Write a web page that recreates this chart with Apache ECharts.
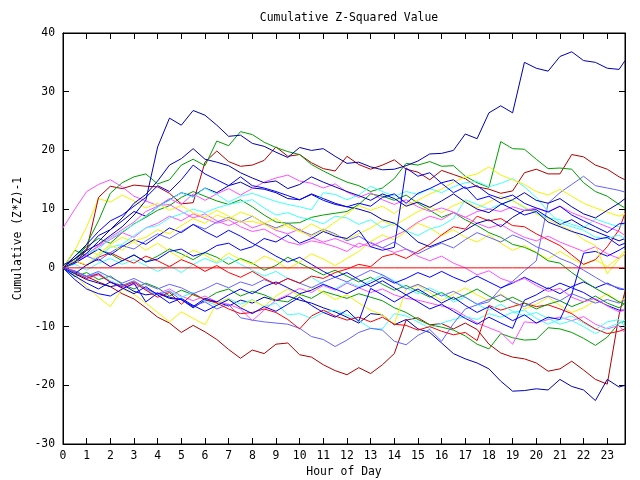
<!DOCTYPE html>
<html>
<head>
<meta charset="utf-8">
<script src="https://cdn.jsdelivr.net/npm/echarts@6/dist/echarts.min.js"></script>
<style>html,body{margin:0;padding:0;background:#fff}#c{width:640px;height:480px}</style>
</head>
<body>
<div id="c"></div>
<script>
// x positions (hour of day)
const hours = [0,0.5,1,1.5,2,2.5,3,3.5,4,4.5,5,5.5,6,6.5,7,7.5,8,8.5,9,9.5,10,10.5,11,11.5,12,12.5,13,13.5,14,14.5,15,15.5,16,16.5,17,17.5,18,18.5,19,19.5,20,20.5,21,21.5,22,22.5,23,23.5,23.75];
const hourLabels = ['0','1','2','3','4','5','6','7','8','9','10','11','12','13','14','15','16','17','18','19','20','21','22','23'];
const yTicks = [-30,-20,-10,0,10,20,30,40];

// series values (cumulative (Z*Z)-1)
const s01 = [0.5,1.5,3,4,5.5,7,9,11.5,20.6,25.5,24.3,26.8,26,24.3,22.4,22.6,21.2,20.7,19.7,18.8,20.5,20,20.3,19,17.8,18,17.2,16.7,16.8,17.4,18.2,19.4,19.5,20,22.8,22,26.4,27.6,26.4,35,34,33.5,36,36.8,35.3,35,34,33.8,35.3];
const s02 = [0,1,4,8,12.7,14.5,15.5,16,14.3,15,17.5,18.5,17.4,21.6,20.8,23.2,22.7,21.4,20.5,19.8,19.3,17.6,16.5,15.5,14.6,14,13,13.6,15.2,17.8,17.5,18.1,17.3,17.4,15.6,14.5,13.7,21.5,20.3,20.2,18.5,16.9,17,16.8,14.5,13,12.2,10.8,10.2];
const s03 = [0,1,3,12,13.9,13.5,14.1,13.9,13.8,12.7,10.9,11.1,18,19.9,18.1,17.3,17.5,18.3,20.6,19,19.3,17.9,16.9,16.5,19,17.6,16.8,17.5,18.4,16.8,16.3,15,16.6,15.9,15.2,13.8,13.4,12.7,13.1,16.2,16.8,16,16,19.3,18.9,17.5,16.8,15.5,15];
const s04 = [0,-0.7,-1.5,-2.4,-3.2,-4.4,-5.3,-6.8,-8.4,-9.4,-11,-9.8,-10.9,-12.2,-13.9,-15.4,-14,-14.6,-13,-12.8,-14.8,-15.2,-16.5,-17.5,-18.2,-17,-18,-16.5,-14.6,-8.9,-8.5,-9.7,-9.5,-10.4,-9.4,-10.5,-13,-14.5,-15.2,-15.5,-16.2,-17.6,-17.2,-15.9,-17.4,-19,-19.8,-8,-4];
const s05 = [0,-1,-2,-2.6,-3.2,-2.8,-4,-4.6,-4.3,-5.2,-5.4,-6.8,-5.5,-5.8,-6.5,-5.5,-6,-5,-5.6,-4.8,-5.5,-6,-6.8,-7.5,-8.4,-9.4,-7.8,-8,-9.7,-8.8,-10.4,-11,-12.8,-14.6,-15.5,-16.2,-17.2,-19.3,-21,-20.9,-20.6,-20.8,-19,-20.2,-20.8,-22.6,-19,-20.3,-20];
const s06 = [0,0,0,0,0,0,0,0,0,0,0,0,0,0,0,0,0,0,0,0,0,0,0,0,0,0,0,0,0,0,0,0,0,0,0,0,0,0,0,0,0,0,0,0,0,0,0,0,0];
const s07 = [0,-0.5,-1.5,-1,-2.5,-3,-2.2,-3.5,-4.5,-4,-5.5,-6.5,-5.8,-7,-6.2,-8.5,-8.9,-9.2,-9.4,-9.6,-10.3,-11.7,-12.2,-13.4,-12.3,-11,-10.3,-10.6,-12.5,-13.1,-11.5,-10.5,-12.5,-9.5,-7,-6.3,-5.8,-3.5,-2.3,-0.5,1.2,11,12.8,14.2,15.6,14,13.6,13.2,12.9];
const s08 = [6.8,10,13,14.2,15,13.8,12.2,11.4,10.6,10.8,9.6,8.5,9.2,8,7.2,8,6.8,7.5,6.4,5.8,6.6,5.2,4.4,5,4.2,3.5,4.4,3.4,2.6,3.2,2,1.2,2,0.8,0,-1.2,-0.5,-1.8,-2.5,-1.8,-3,-4,-3.5,-5,-5.8,-5.2,-6.5,-7.5,-7.2];
const s09 = [0,1,2.4,3.6,4.8,6,5.2,6.8,7.6,8.8,8,9.2,8.4,7.6,8.2,7,6.2,6.6,5.5,4.4,3.9,4.6,4.2,3.6,2.8,4.2,3.6,4.6,5.4,6.4,7.8,8.8,8.2,9.4,8.6,7.6,6.8,7.4,6.2,5.2,4.6,5.4,4.4,3.6,2.8,3.6,2.4,1.6,2.4];
const s10 = [0,1,2.5,3.2,5,6.2,7.4,8.8,10.4,11.5,12.8,12,13.6,12.5,11.2,12.2,12.7,12,11.3,10.8,10.4,9.9,12.8,12.5,11.6,12.4,13.9,13,12.2,13,12.5,13.5,12.8,13.8,14.5,14.7,13.8,14.4,15.2,13.8,12,9.6,7.6,7,6.4,5.2,5,5.6,5];
const s11 = [0,-1,0.5,2,3.5,4,5.5,6.8,7.2,8.5,9.2,10,9.4,10.2,10.8,11.2,11.6,10.2,9,9.4,8.6,8.2,7.5,8.8,8.5,7.4,8.2,6.8,7.6,6.3,5.5,6.6,7.2,8.4,11.6,10.8,10,10.8,11.5,10.2,9.4,8.5,8.2,7.4,6.8,8.3,7.6,7,7.6];
const s12 = [0,2,4,6.2,8,9,10.5,12,14,13,15,17.5,16,15,14,15.5,14,13.6,13,12.3,11.6,12.5,11.5,10.8,10.4,11,10.5,12,12.6,11,12.7,13.5,14.5,15,13.5,14,12.5,11.8,12.4,11,10.2,9.5,10.5,9,8,7,6,7.5,7.6];
const s13 = [0,1,2.5,4.5,6.5,8.5,11,12.5,14.8,17.5,18.6,20.3,18.5,18,17.4,16.2,15.3,14.5,14.8,13.5,14.2,15.5,14.6,13.8,13,12.3,11.5,12.6,11.8,10.5,11.2,10.3,11.4,12.6,11.2,10,9.4,10.8,11.6,12.8,11.5,11,11.8,10.4,9.2,8.5,9.8,11,11.8];
const s14 = [0,-1,0.5,1.5,0.2,1.2,2.2,1,1.5,2.8,3.2,2,2.6,3.8,4.2,3,3.6,5,4.4,5.6,4.2,5,6.2,5.4,5,6.4,3.6,3,3.5,17,15.6,16.2,14.4,12.8,13.8,11.6,12.2,11,10,9,9.6,7.8,7,6.2,5.6,4.8,5.2,3.8,4.2];
const s15 = [0,1.2,0.5,2.5,3.8,3,4.6,5.2,6.5,5.8,7.2,8.4,7.6,9,8.3,9.5,8.8,7.6,8.4,7,6.2,7.5,6.4,7.8,9.2,10.6,9.8,10.5,9.2,10.8,11.5,12.6,13.4,14.6,15.5,16,17.2,15.8,15,14.2,13,12.4,13.4,12.2,11,10.2,9.5,8.8,9.2];
const s16 = [0,-1.2,-3.2,-5,-6.6,-3.6,-4.5,-6,-7.6,-9.2,-7.5,-8.6,-9.7,-6,-5.2,-6.8,-5.5,-6.6,-4.8,-3.6,-4.8,-3.2,-4.2,-5.4,-4.6,-6,-7.2,-8,-9.6,-3.6,-3,-4.2,-5.6,-4.5,-3.4,-4.6,-5.6,-4.4,-5.8,-7,-6.2,-5,-6.4,-7.6,-6.8,-5.6,-4.4,-5.8,-5.2];
const s17 = [0,1.5,3,2.2,4,5.2,4.4,3,4.2,2.8,1.6,3,2.2,1,2.5,1.4,0.6,2,1.2,-0.2,1,2.4,1.5,0.4,1.6,2.8,4.5,5.6,4.8,6.2,7.6,6.8,5.5,6.5,5.2,4.4,5.6,4.2,3,3.8,2.6,1.5,2.8,1.6,0.5,1.4,0.2,1.8,3];
const s18 = [0,-0.8,-1.5,-0.8,-2.2,-3,-2.4,-3.8,-4.6,-3.9,-5,-4.2,-5.6,-6.4,-5.2,-6.2,-5.4,-6.6,-6,-8,-7.8,-8.6,-7.6,-7.2,-8,-9,-10.3,-10.4,-7.8,-8.2,-9.2,-10.3,-9.4,-8.8,-8.3,-8.8,-7.8,-8.4,-7.6,-7.2,-8.6,-9.6,-8.8,-8.2,-9.4,-10.5,-9.2,-8.8,-10];
const s19 = [0,-1.5,-0.8,-2,-1.4,-2.8,-3.6,-2.6,-3.4,-4.8,-3.8,-4.6,-5.4,-4.2,-3.6,-4.8,-4,-4.6,-5.5,-5.8,-4.5,-5.2,-4,-4.6,-5.2,-4.4,-5,-5.6,-6.8,-7.6,-8.8,-9.7,-10.1,-10.6,-11.6,-13,-13.8,-11.2,-11.9,-12.3,-12.2,-10.2,-10.4,-11,-12,-13.2,-11.8,-9.4,-9.1];
const s20 = [0,2,3.6,5,4.2,6,7.5,8.6,9.8,10.6,12,13,12.2,11.4,10.8,11.6,10.4,9,7.8,7.6,7.7,8.6,9,9.3,9.6,10.8,12.6,12.2,11.5,12.4,11,9.8,8.6,9.4,8.2,7.2,6,5.2,4,3.5,2.6,1.2,0.8,-0.8,-2.2,-3.5,-4.6,-5.8,-6.2];
const s21 = [0,-0.5,-1.8,-1.2,-2.4,-3.5,-2.8,-3.6,-4.4,-3.6,-4.8,-5.6,-4.8,-5.8,-6.2,-7,-9,-7.2,-5.5,-4.6,-3.5,-4.2,-3,-3.8,-2.6,-3.4,-4.2,-3.6,-4.6,-5.2,-5.5,-6,-6.5,-7,-8.2,-9.4,-10.2,-11,-13,-9.2,-9.4,-8.8,-8.4,-9,-8.3,-9.6,-10.4,-9.8,-11.1];
const s22 = [0,1,2.2,3.8,5.2,6.5,7.8,9.6,10.5,11.8,10.8,12.6,11.5,12.6,13.5,12.4,13.5,14.6,15.3,15.8,14.8,14.4,13.6,14.3,12.9,12,12.8,11.6,10.8,11.6,10.4,9.6,10.2,9.5,8.6,9.6,10,9.6,10.4,9.8,10.2,9.6,10.5,9.4,8.6,7.8,7,6.2,5.5];
const s23 = [0,0.8,2,1.2,2.6,3.8,3.2,4.6,5.8,5,6.2,7.4,6.6,7.8,8.6,7.8,8.8,7.6,6.8,7.6,6.4,5.6,6.6,5.8,4.6,5.4,4.2,3.4,4.4,3.2,2.4,3.4,4.2,3.4,4.8,6,5.2,4.4,5.6,4.8,3.6,2.8,1.6,0.8,-0.4,-1.6,-2.8,-3.4,-3.7];
const s24 = [0,-0.6,-1.4,-0.6,-1.6,-2.6,-1.8,-2.8,-3.6,-2.8,-3.4,-4.4,-3.6,-2.6,-3.4,-2.4,-3,-2,-2.8,-1.8,-2.6,-3.4,-2.4,-1.6,-2.4,-1.4,-0.4,-1.2,-2.4,-3.6,-2.8,-3.8,-4.8,-4,-5,-6.2,-5.4,-4.6,-5.8,-6.6,-5.6,-4.8,-5.6,-4.4,-5.2,-6,-5.4,-6,-5.5];
const s25 = [0,-0.8,-1.8,-1,-2.4,-3.2,-2.4,-3.8,-5,-4.2,-6.2,-4.4,-5.4,-6,-7,-7.8,-7.6,-7,-7.6,-8.8,-10.4,-8.2,-7.2,-8.2,-8.9,-8.4,-9.2,-8.4,-9.6,-9.8,-10.6,-10,-10.8,-11.4,-11,-12.4,-6.4,-7.2,-6.6,-6,-6.6,-6.3,-7,-7.8,-9.2,-10.4,-11.2,-10.8,-10.4];
const s26 = [0,1.2,0.4,1.8,2.6,1.6,0.8,2,1.2,0.2,1.4,0.6,-0.6,0.4,-0.8,-1.6,-0.6,-1.8,-2.8,-1.8,-2.6,-1.4,-1.8,-0.8,-0.2,0.6,0.2,1.9,2.4,1.6,2.8,4,5.6,7,6.6,8.8,8,8.4,7.2,7,5.8,4.8,3.8,2.2,0.6,1.4,3.6,6.5,9.3];
const s27 = [0,0.6,-0.4,0.8,1.6,0.6,1.4,0.4,-0.6,0.4,-0.8,0.6,1.6,0.8,1.8,0.6,-0.4,-1.4,-0.6,-1.8,-2.6,-1.6,-2.8,-3.6,-2.4,-3.2,-2.2,-1.2,-2.2,-3.4,-4.4,-3.4,-4.4,-5.8,-5,-6.2,-7.2,-6.2,-7.4,-8.2,-7.6,-8.6,-9.6,-9,-10,-11.2,-10.2,-9.4,-8.9];
const s28 = [0,-1.4,-2.6,-3.6,-2.4,-3.4,-4.4,-3.2,-4.6,-6,-5.2,-6.4,-7.4,-6.4,-5.4,-6.8,-7.8,-6.6,-7.4,-6.2,-5,-6.4,-7.6,-8.4,-7.2,-9.1,-3.5,-4.6,-5.8,-4.6,-5.8,-7,-6.2,-7.4,-8.6,-9.6,-8.4,-9.4,-10.3,-5.5,-4.6,-3.4,-4.4,-3.2,-2.4,-3.4,-2.6,-3.6,-3.7];
const s29 = [0,0.8,2,3.2,2.2,3.6,4.8,4,5.4,6.8,6,7.4,6.2,5.2,6.4,5.4,4.2,3.2,2,1,1.8,0.6,-0.6,-1.6,-0.8,-2,-3.2,-2.2,-3.4,-4.6,-3.6,-4.8,-6,-5,-6.4,-7.6,-6.6,-7.8,-9,-8,-9.4,-8.4,-8.8,-4.5,2.5,2.8,2,3,3.6];
const s30 = [0,1.6,3.2,5.5,6.5,8,9.6,8.8,10.4,11.6,12.8,12.2,13.6,12.8,14,14.6,13.6,13.4,12.8,11.8,11.6,12.6,11.8,11,10.4,10,9.4,8.2,7.6,6.2,4.4,3.6,4.4,5.2,6.4,7.6,8.2,7,8.6,9.8,9.9,8.6,7.4,8.2,7,6.2,5.4,4.6,5];
const s31 = [0,3,2,3.2,2.4,1.2,2.2,1,2,3.2,2.4,1.4,2.6,1.8,0.6,1.6,0.8,-0.4,0.4,1.8,0.8,-0.2,-1.2,-0.4,-1.4,-2.4,-1.6,-2.8,-3.8,-3,-4,-5,-4.2,-5.4,-4.6,-3.6,-4.8,-5.8,-5,-6,-7,-6.2,-5.6,-6.6,-5.8,-4.8,-6,-6.8,-6];
const s32 = [0,3,7,11.8,11.2,12.4,11.4,10.2,11,9.8,10.6,9.4,8.6,9.8,8.8,7.8,7.9,7.4,6.6,7.4,6.2,5.4,6.4,5.6,4.8,5.8,6.8,8,7.2,8.4,9.6,10.4,9.4,10.6,11.4,10.2,11.2,12.2,11.4,10.4,9.2,8.2,7.2,6.4,4.8,3.8,-1,1.5,2.5];
const s33 = [0,-2,-3.6,-4.4,-4.8,-3.6,-2.6,-5.8,-4.3,-5,-5.4,-6.6,-5.2,-5.8,-4.6,-3.6,-4.4,-3.2,-2.4,-3.4,-4.4,-3.8,-2.8,-3.6,-4.4,-3.4,-2.6,-1.6,-2.6,-1.8,-0.8,-1.6,-0.6,-1.6,-2.4,-1.4,-2.4,-3.4,-2.6,-1.6,-2.6,-3.6,-2.6,-3.4,-4.2,-5.4,-6.4,-7.2,-7.2];

const DR = '#b00000', G = '#00a000', DB = '#0000b4', M = '#ff50ff', C = '#40ffff',
      Y = '#f4f400', P = '#6464ff', R = '#ff0000', B = '#0000ff';

const lines = [
  [s04, DR], [s19, G], [s05, DB], [s21, M], [s18, C], [s16, Y], [s07, P], [s25, R], [s28, B],
  [s31, G], [s27, C], [s24, P], [s33, B], [s08, M], [s17, Y], [s26, R],
  [s20, G], [s09, M], [s11, C], [s23, P], [s29, B], [s32, Y], [s30, DB],
  [s03, DR], [s02, G], [s22, M], [s10, C], [s15, Y], [s12, B], [s13, DB], [s14, B],
  [s01, DB], [s06, R]
];

const font = 'DejaVu Sans Mono';
const txt = {fontFamily: font, fontSize: 11.4, color: '#000'};

const series = lines.map(([vals, col]) => ({
  type: 'line',
  data: hours.map((h, i) => [h, vals[i]]),
  showSymbol: false,
  symbol: 'none',
  silent: true,
  z: 2,
  lineStyle: {width: 1, color: col},
  itemStyle: {color: col}
}));

const chart = echarts.init(document.getElementById('c'), null, {renderer: 'canvas'});
chart.setOption({
  animation: false,
  backgroundColor: '#ffffff',
  title: {
    text: 'Cumulative Z-Squared Value',
    left: 344, top: 8, textAlign: 'center',
    textStyle: Object.assign({fontWeight: 'normal'}, txt)
  },
  grid: {left: 63, right: 15, top: 33, bottom: 36, show: true, borderColor: '#000', borderWidth: 1,
         backgroundColor: 'transparent', containLabel: false, outerBoundsMode: 'none'},
  xAxis: [{
    type: 'value', min: 0, max: 23.75, interval: 1, position: 'bottom',
    name: 'Hour of Day', nameLocation: 'middle', nameGap: 22, nameTextStyle: txt,
    axisLine: {show: true, onZero: false, lineStyle: {color: '#000', width: 1}},
    axisTick: {show: true, inside: true, length: 6, lineStyle: {color: '#000'}},
    axisLabel: Object.assign({margin: 7, formatter: v => (Number.isInteger(v) && hourLabels[v] !== undefined) ? hourLabels[v] : ''}, txt),
    splitLine: {show: false}
  }, {
    type: 'value', min: 0, max: 23.75, interval: 1, position: 'top',
    axisLine: {show: true, onZero: false, lineStyle: {color: '#000', width: 1}},
    axisTick: {show: true, inside: true, length: 6, lineStyle: {color: '#000'}},
    axisLabel: {show: false}, splitLine: {show: false}
  }],
  yAxis: [{
    type: 'value', min: -30, max: 40, interval: 10, position: 'left',
    name: 'Cumulative (Z*Z)-1', nameLocation: 'middle', nameGap: 25, nameRotate: 90, nameTextStyle: txt,
    axisLine: {show: true, onZero: false, lineStyle: {color: '#000', width: 1}},
    axisTick: {show: true, inside: true, length: 6, lineStyle: {color: '#000'}},
    axisLabel: Object.assign({margin: 8, formatter: v => yTicks.includes(v) ? String(v) : ''}, txt),
    splitLine: {show: false}
  }, {
    type: 'value', min: -30, max: 40, interval: 10, position: 'right',
    axisLine: {show: true, onZero: false, lineStyle: {color: '#000', width: 1}},
    axisTick: {show: true, inside: true, length: 6, lineStyle: {color: '#000'}},
    axisLabel: {show: false}, splitLine: {show: false}
  }],
  series: series
});
</script>
</body>
</html>
